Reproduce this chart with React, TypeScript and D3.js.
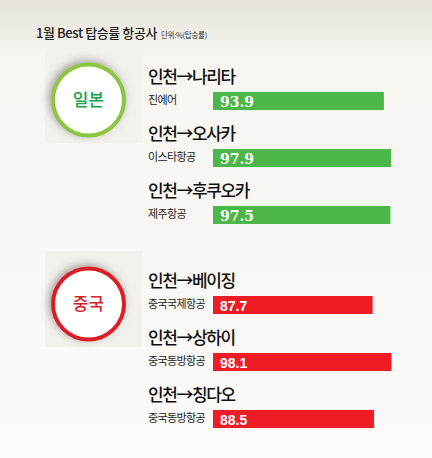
import React from 'react';
import * as d3 from 'd3';

// chart data
const title = '1월 Best 탑승률 항공사';
const unitLabel = '단위:%(탑승률)';
const countries = ['일본', '중국'];
const countryColors = ['#8cc63f', '#dc1f26'];
const countryTextColors = ['#12a24a', '#d8232a'];
const barColors = ['#4cb748', '#ee1c25'];
const routes = ['인천→나리타', '인천→오사카', '인천→후쿠오카', '인천→베이징', '인천→상하이', '인천→칭다오'];
const airlines = ['진에어', '이스타항공', '제주항공', '중국국제항공', '중국동방항공', '중국동방항공'];
const rates = [93.9, 97.9, 97.5, 87.7, 98.1, 88.5];
const countryOf = [0, 0, 0, 1, 1, 1];

const W = 432;
const H = 458;
const font = "'Noto Sans CJK KR', 'Noto Sans', sans-serif";

export default function App() {
  const x = d3.scaleLinear().domain([0, 100]).range([0, 182]);
  // row baseline for route label; each country block is offset
  const rowY = d3.scaleLinear().domain([0, 1]).range([83, 140]);
  const groupY = d3.scaleLinear().domain([0, 1]).range([0, 204]);
  const barX = 213;
  const barH = 18;

  const rowBase = (i: number) => groupY(countryOf[i]) + rowY(i % 3);

  return (
    <svg width={W} height={H} viewBox={`0 0 ${W} ${H}`}
      style={{ position: 'absolute', left: 0, top: 0 }}>
      <defs>
        <linearGradient id="bg" x1="0" y1="0" x2="0" y2="1">
          <stop offset="0" stopColor="#e6e2d9" />
          <stop offset="0.12" stopColor="#f7f5f0" />
          <stop offset="1" stopColor="#fbfaf8" />
        </linearGradient>
        <filter id="shadow" x="-40%" y="-40%" width="180%" height="180%">
          <feDropShadow dx="-2" dy="-2" stdDeviation="4" floodColor="#555" floodOpacity="0.55" />
        </filter>
      </defs>
      <rect width={W} height={H} fill="url(#bg)" />

      <g style={{ fontFamily: font }}>
        <text x={36} y={38} fontSize={13} fontWeight={500} fill="#222" letterSpacing={-0.4}>{title}</text>
        <text x={161} y={38} fontSize={7.5} fill="#333" letterSpacing={-0.3}>{unitLabel}</text>

        {countries.map((c, g) => {
          const cy = groupY(g) + 100;
          return (
            <g key={c}>
              <rect x={45} y={cy - 53} width={97} height={96} fill="#f3f1ec" />
              <circle cx={88.5} cy={cy} r={35.5} fill="#fff" stroke={countryColors[g]}
                strokeWidth={4} filter="url(#shadow)" />
              <text x={88.5} y={cy} dy="0.36em" textAnchor="middle" fontSize={17}
                fontWeight={500} fill={countryTextColors[g]}>{c}</text>
            </g>
          );
        })}

        {routes.map((r, i) => {
          const base = rowBase(i);
          const g = countryOf[i];
          return (
            <g key={i}>
              <text x={148} y={base} fontSize={17} fontWeight={500} fill="#111" letterSpacing={-1.4}>{r}</text>
              <text x={148} y={base + 21} fontSize={11} fill="#222" letterSpacing={-0.6}>{airlines[i]}</text>
              <rect x={barX} y={base + 9} width={x(rates[i])} height={barH} fill={barColors[g]} />
              <text x={barX + 7} y={base + 24} fontSize={14} fontWeight="bold" fill="#fff"
                style={{ fontFamily: g === 0 ? "'DejaVu Serif', serif" : "'Liberation Sans', sans-serif" }}>
                {rates[i].toFixed(1)}
              </text>
            </g>
          );
        })}
      </g>
    </svg>
  );
}
